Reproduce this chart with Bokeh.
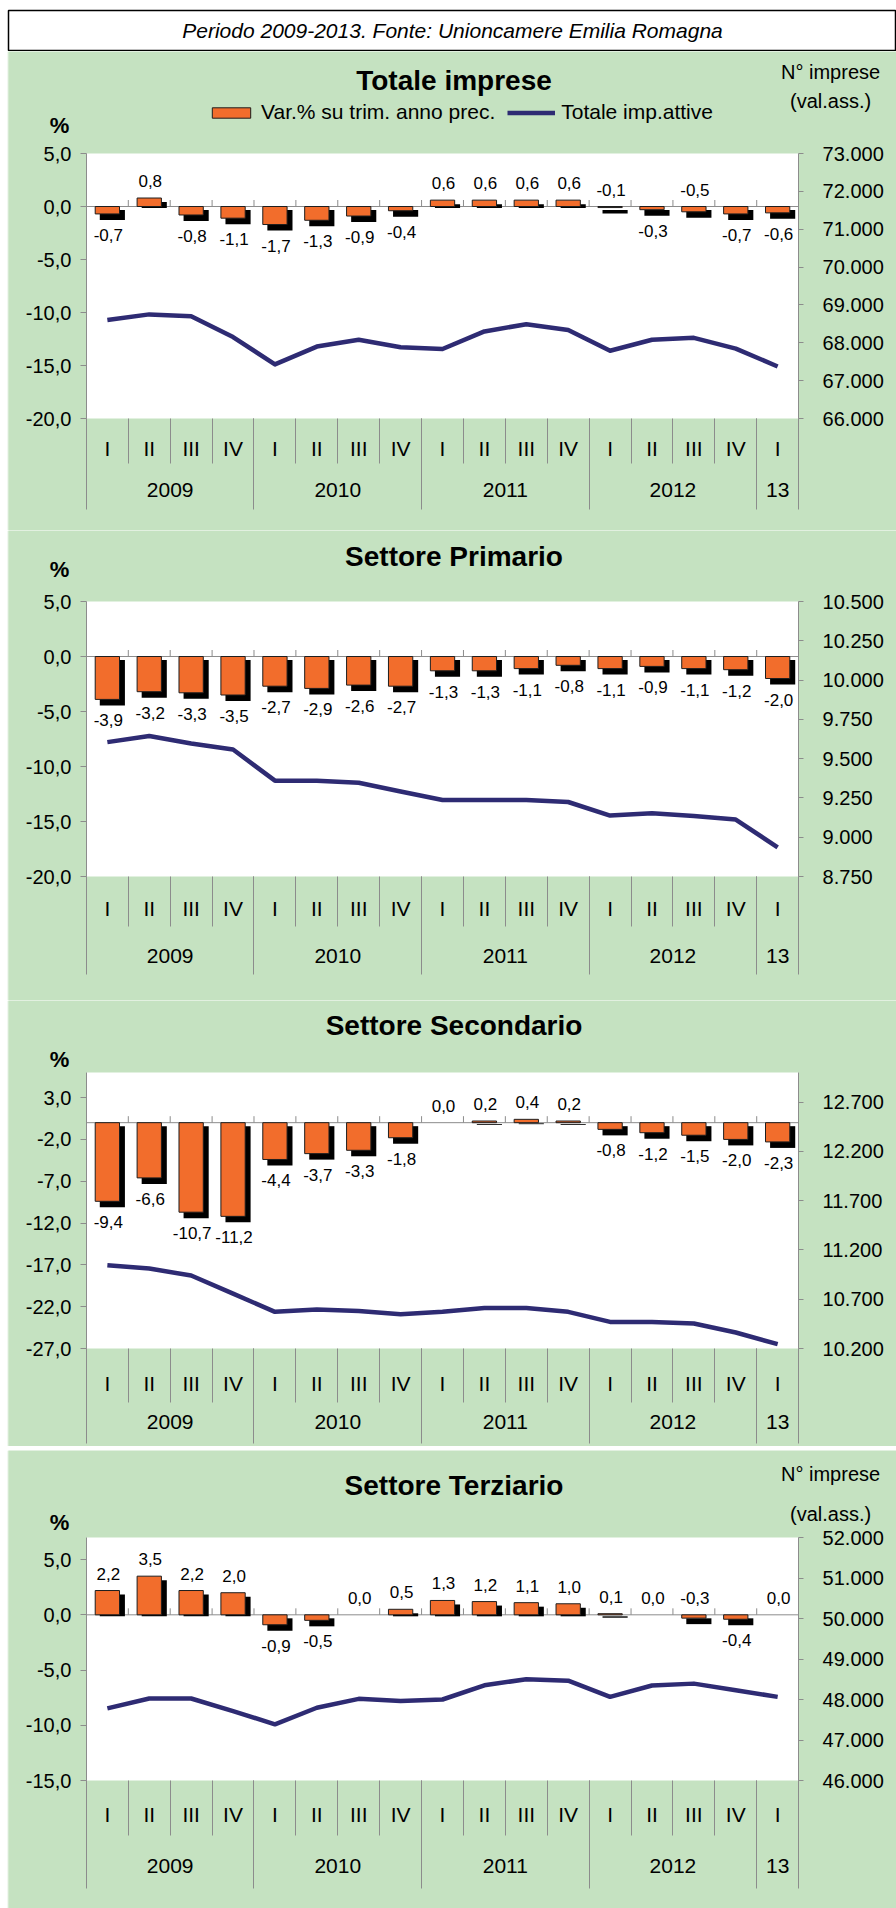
from bokeh.plotting import figure
from bokeh.models import (Range1d, LinearAxis, FixedTicker, Label, Legend,
                          LegendItem, ColumnDataSource)
from bokeh.layouts import column
from bokeh.embed import file_html
from bokeh.resources import INLINE
from bokeh.core.properties import value

# ---------------- data ----------------
quarters = ["I", "II", "III", "IV", "I", "II", "III", "IV", "I", "II", "III", "IV",
            "I", "II", "III", "IV", "I"]
years = ["2009", "2010", "2011", "2012", "13"]
year_quarters = [4, 4, 4, 4, 1]

totale_var = [-0.7, 0.8, -0.8, -1.1, -1.7, -1.3, -0.9, -0.4, 0.6, 0.6, 0.6, 0.6,
              -0.1, -0.3, -0.5, -0.7, -0.6]
totale_abs = [68600, 68750, 68700, 68150, 67430, 67900, 68080, 67880, 67835, 68300,
              68490, 68340, 67790, 68080, 68130, 67845, 67375]

primario_var = [-3.9, -3.2, -3.3, -3.5, -2.7, -2.9, -2.6, -2.7, -1.3, -1.3, -1.1, -0.8,
                -1.1, -0.9, -1.1, -1.2, -2.0]
primario_abs = [9605, 9644, 9596, 9558, 9360, 9360, 9347, 9291, 9237, 9237, 9237, 9224,
                9138, 9153, 9135, 9112, 8936]

secondario_var = [-9.4, -6.6, -10.7, -11.2, -4.4, -3.7, -3.3, -1.8, 0.0, 0.2, 0.4, 0.2,
                  -0.8, -1.2, -1.5, -2.0, -2.3]
secondario_abs = [11045, 11011, 10940, 10757, 10572, 10595, 10580, 10548, 10572, 10612,
                  10612, 10572, 10470, 10470, 10453, 10362, 10244]

terziario_var = [2.2, 3.5, 2.2, 2.0, -0.9, -0.5, 0.0, 0.5, 1.3, 1.2, 1.1, 1.0,
                 0.1, 0.0, -0.3, -0.4, 0.0]
terziario_abs = [47780, 48025, 48025, 47715, 47388, 47796, 48016, 47960, 48000, 48351,
                 48500, 48466, 48065, 48345, 48392, 48229, 48065]

header_text = "Periodo 2009-2013. Fonte: Unioncamere Emilia Romagna"
legend_labels = ["Var.% su trim. anno prec.", "Totale imp.attive"]

# ---------------- style ----------------
GREEN = "#C5E2C1"
ORANGE = "#F26D2C"
NAVY = "#2E2B73"
GRAY = "#8C8C8C"
FONT = "Liberation Sans"
PAGE_L, PAGE_R = 7, 896   # figure left / right (page px)
FL, FR = 85, 798          # white plot area left / right (page px)
HALF_TXT = 13             # half height of a 21px category label box


def fmt_pct(v):
    return f"{v:.1f}".replace(".", ",")


def fmt_thou(v):
    return f"{int(v):,}".replace(",", ".")


def style_num_axis(ax, standoff, tick_out):
    ax.axis_line_color = GRAY
    ax.major_tick_line_color = GRAY
    ax.major_tick_in = 0
    ax.major_tick_out = tick_out
    ax.minor_tick_line_color = None
    ax.major_label_standoff = standoff
    ax.major_label_text_font = FONT
    ax.major_label_text_font_size = "20px"
    ax.major_label_text_color = "black"


def style_cat_axis(ax, center, sep_len):
    ax.axis_line_color = None
    ax.major_tick_line_color = None
    ax.major_tick_in = 0
    ax.major_tick_out = 0
    ax.minor_tick_line_color = GRAY
    ax.minor_tick_in = 0
    ax.minor_tick_out = sep_len
    ax.major_label_standoff = int(round(center - sep_len - HALF_TXT))
    ax.major_label_text_font = FONT
    ax.major_label_text_font_size = "21px"
    ax.major_label_text_color = "black"


def make_panel(title, var, ab, fig_top, fig_bot, fr_top, fr_bot, lrange, lticks,
               rrange, rticks, title_y, pct_y, cat_geom, units_y=None, above=(),
               with_legend=False):
    n = len(var)
    ppx = (FR - FL) / n
    ppy = (fr_bot - fr_top) / (lrange[1] - lrange[0])
    ppr = (fr_bot - fr_top) / (rrange[1] - rrange[0])

    def X(px):
        return (px - FL) / ppx

    def Y(py):
        return lrange[1] - (py - fr_top) / ppy

    x_range = Range1d(X(PAGE_L), X(PAGE_R))
    y_range = Range1d(Y(fig_bot), Y(fig_top))
    r_range = Range1d(rrange[0] - (fig_bot - fr_bot) / ppr,
                      rrange[1] + (fr_top - fig_top) / ppr)

    p = figure(width=PAGE_R - PAGE_L, height=fig_bot - fig_top, output_backend="svg",
               toolbar_location=None, x_range=x_range, y_range=y_range,
               x_axis_location=None, y_axis_location=None, min_border=0,
               background_fill_color=GREEN, border_fill_color=GREEN,
               outline_line_color=None)
    p.extra_y_ranges = {"abs": r_range}
    p.grid.visible = False

    # white plot area
    p.quad(left=[0], right=[n], bottom=[lrange[0]], top=[lrange[1]],
           fill_color="white", line_color=None, level="image")

    # numeric axes (placed at the plot-area edges)
    ax_l = LinearAxis(ticker=FixedTicker(ticks=lticks), fixed_location=0,
                      bounds=lrange,
                      major_label_overrides={t: fmt_pct(t) for t in lticks})
    style_num_axis(ax_l, 9, 6)
    p.add_layout(ax_l, "left")
    ax_r = LinearAxis(y_range_name="abs", ticker=FixedTicker(ticks=rticks),
                      fixed_location=n, bounds=rrange,
                      major_label_overrides={t: fmt_thou(t) for t in rticks})
    style_num_axis(ax_r, 19, 5)
    p.add_layout(ax_r, "right")

    # category axes (quarters and years) under the plot area
    q_center, q_sep, y_center, y_sep = cat_geom
    centers = [i + 0.5 for i in range(n)]
    qa = LinearAxis(ticker=FixedTicker(ticks=centers, minor_ticks=list(range(n + 1))),
                    fixed_location=lrange[0], bounds=(0, n),
                    major_label_overrides=dict(zip(centers, quarters)))
    style_cat_axis(qa, q_center, q_sep)
    p.add_layout(qa, "below")
    starts, s = [], 0
    for k in year_quarters:
        starts.append(s)
        s += k
    y_centers = [st + k / 2 for st, k in zip(starts, year_quarters)]
    ya = LinearAxis(ticker=FixedTicker(ticks=y_centers, minor_ticks=starts + [s]),
                    fixed_location=lrange[0], bounds=(0, n),
                    major_label_overrides=dict(zip(y_centers, years)))
    style_cat_axis(ya, y_center, y_sep)
    p.add_layout(ya, "below")

    # zero line with small ticks
    p.segment(x0=[0], x1=[n], y0=[0], y1=[0], line_color=GRAY, line_width=1,
              level="underlay")
    bounds = list(range(1, n))
    p.segment(x0=bounds, x1=bounds, y0=[0] * len(bounds),
              y1=[6.5 / ppy] * len(bounds), line_color=GRAY, line_width=1,
              level="underlay")

    # bars with shadow
    bx = [c for c, v in zip(centers, var) if v != 0]
    bv = [v for v in var if v != 0]
    src = ColumnDataSource(dict(
        x=bx,
        top=[max(v, 0) for v in bv],
        bottom=[min(v, 0) for v in bv],
        sx=[c + 5 / ppx for c in bx],
        stop=[(v - 4 / ppy) if v > 0 else -3.5 / ppy for v in bv],
        sbot=[(-1.5 / ppy) if v > 0 else (v - 6 / ppy) for v in bv],
    ))
    p.vbar(x="sx", top="stop", bottom="sbot", width=0.6, fill_color="black",
           line_color=None, source=src)
    bar_r = p.vbar(x="x", top="top", bottom="bottom", width=0.58, fill_color=ORANGE,
                   line_color="#1E1E1E", line_width=1, source=src)

    # line on right axis
    line_r = p.line(centers, ab, y_range_name="abs", line_color=NAVY, line_width=4.5,
                    line_join="round")

    # data labels
    ly, lo = [], []
    for i, v in enumerate(var):
        if v < 0 and i not in above:
            ly.append(v)
            lo.append(21)
        else:
            ly.append(max(v, 0))
            lo.append(-17)
    lsrc = ColumnDataSource(dict(x=centers, y=ly, t=[fmt_pct(v) for v in var], yo=lo))
    p.text(x="x", y="y", text="t", y_offset="yo", x_offset=1, source=lsrc,
           text_align="center", text_baseline="middle", text_font=value(FONT),
           text_font_size="17px", text_color="black")

    # texts around the plot area
    p.add_layout(Label(x=X(453), y=Y(title_y), text=title, text_align="center",
                       text_baseline="middle", text_font=FONT, text_font_style="bold",
                       text_font_size="28px", text_color="black"))
    p.add_layout(Label(x=X(58), y=Y(pct_y), text="%", text_align="center",
                       text_baseline="middle", text_font=FONT, text_font_style="bold",
                       text_font_size="22px", text_color="black"))
    if units_y is not None:
        p.add_layout(Label(x=X(830), y=Y(units_y[0]), text="N° imprese",
                           text_align="center", text_baseline="middle", text_font=FONT,
                           text_font_size="20px", text_color="black"))
        p.add_layout(Label(x=X(830), y=Y(units_y[1]), text="(val.ass.)",
                           text_align="center", text_baseline="middle", text_font=FONT,
                           text_font_size="20px", text_color="black"))
    if with_legend:
        leg = Legend(items=[LegendItem(label=legend_labels[0], renderers=[bar_r]),
                            LegendItem(label=legend_labels[1], renderers=[line_r])],
                     orientation="horizontal",
                     location=(206 - PAGE_L, fig_bot - 124),
                     border_line_color=None, background_fill_alpha=0,
                     glyph_width=48, glyph_height=13, label_standoff=6, spacing=12,
                     padding=0, margin=0, label_text_font=FONT,
                     label_text_font_size="21px", label_text_color="black")
        p.add_layout(leg)
    return p


def blank(height, fill, outline=None):
    f = figure(width=PAGE_R - PAGE_L, height=height, output_backend="svg",
               toolbar_location=None, x_range=Range1d(0, 1), y_range=Range1d(0, 1),
               x_axis_location=None, y_axis_location=None, min_border=0,
               min_border_left=1, min_border_right=0,
               min_border_top=1 if outline else 0, min_border_bottom=1 if outline else 0,
               background_fill_color=fill, border_fill_color=fill,
               outline_line_color=outline, outline_line_width=1.5)
    f.grid.visible = False
    return f


header = blank(42, "white", "black")
header.add_layout(Label(x=0.5, y=0.5, text=header_text, text_align="center",
                        text_baseline="middle", text_font=FONT, text_font_style="italic",
                        text_font_size="21px", text_color="black"))

p1 = make_panel("Totale imprese", totale_var, totale_abs, 51, 530, 153, 418,
                (-20, 5), [5, 0, -5, -10, -15, -20],
                (66000, 73000), list(range(66000, 73001, 1000)),
                title_y=80, pct_y=125, cat_geom=(31, 45, 77, 91), units_y=(71, 100),
                above={12, 14}, with_legend=True)
p2 = make_panel("Settore Primario", primario_var, primario_abs, 530, 1000, 601, 876,
                (-20, 5), [5, 0, -5, -10, -15, -20],
                (8750, 10500), list(range(8750, 10501, 250)),
                title_y=556, pct_y=569, cat_geom=(33, 50, 85, 98))
p3 = make_panel("Settore Secondario", secondario_var, secondario_abs, 1000, 1446, 1072,
                1348, (-27, 6), [3, -2, -7, -12, -17, -22, -27],
                (10200, 13000), list(range(10200, 12701, 500)),
                title_y=1025, pct_y=1059, cat_geom=(36, 54, 79, 95))
sep = blank(4, "#DDEFF0")
p4 = make_panel("Settore Terziario", terziario_var, terziario_abs, 1450, 1908, 1537, 1780,
                (-15, 7), [5, 0, -5, -10, -15],
                (46000, 52000), list(range(46000, 52001, 1000)),
                title_y=1485, pct_y=1522, cat_geom=(35, 55, 91, 108),
                units_y=(1473, 1513), above={14})

layout = column(header, p1, p2, p3, sep, p4, spacing=0, margin=(9, 0, 0, 7))
open("out.html", "w").write(file_html(layout, INLINE))
